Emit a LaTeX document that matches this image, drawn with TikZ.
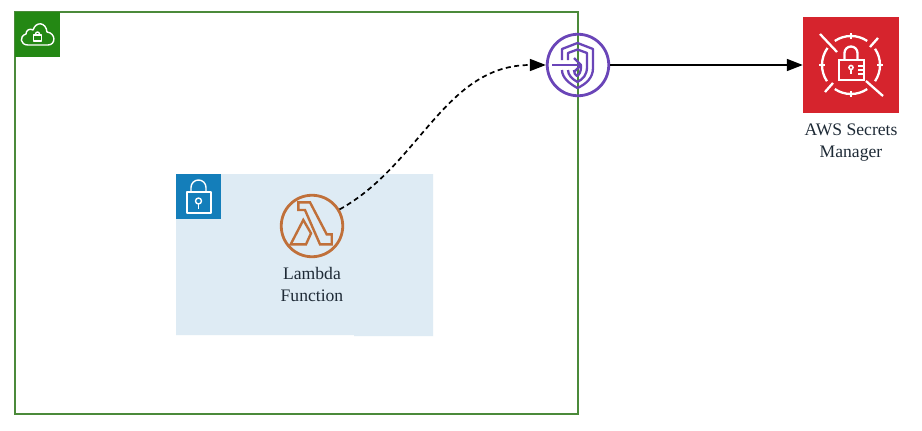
\documentclass[tikz,border=0pt]{standalone}
\usepackage{fontspec}
\setmainfont{Liberation Serif}
\usetikzlibrary{arrows.meta}
\definecolor{vpcgreen}{HTML}{4B8A3A}
\definecolor{badgegreen}{HTML}{248814}
\definecolor{badgeblue}{HTML}{147EBA}
\definecolor{paleblue}{HTML}{DEEBF4}
\definecolor{lambdaorange}{HTML}{C0703A}
\definecolor{endpurple}{HTML}{6A45B8}
\definecolor{secretred}{HTML}{D6242D}
\definecolor{labeltext}{HTML}{1E2A36}
\tikzset{
  x=1pt,y=-1pt,
  badge/.style={inner sep=0pt,minimum size=45pt,anchor=north west},
  ringicon/.style={circle,draw,line width=2.8pt,inner sep=0pt,minimum size=61.5pt},
  whiteline/.style={draw=white,line width=1.4pt,line join=round},
  whitebold/.style={draw=white,line width=2.3pt,line join=miter},
  orangeline/.style={draw=lambdaorange,line width=2.4pt,line join=miter},
  purpleline/.style={draw=endpurple,line width=2.3pt,line join=round},
  caption/.style={font=\fontsize{17.6pt}{22pt}\selectfont,text=labeltext,align=center,inner sep=0pt},
  flow/.style={draw=black,line width=1.7pt,-{Triangle[length=16pt,width=12pt]}},
}
\begin{document}
\begin{tikzpicture}
\useasboundingbox (0,0) rectangle (922,431);
\fill[white] (0,0) rectangle (922,431);
% VPC
\draw[vpcgreen,line width=2.2pt] (15,12) rectangle (578,414);
\node[badge,fill=badgegreen] (vpcbadge) at (15,12) {};
\draw[whiteline] (28,45) .. controls (20,45) and (19,36) .. (26,34)
  .. controls (26,30) and (30,28) .. (33,30)
  .. controls (36,21) and (46,22) .. (47,32)
  .. controls (56,33) and (56,45) .. (48,45) -- cycle;
\draw[whiteline] (33.5,35) rectangle (41.5,41);
\draw[whiteline] (35.5,35) -- (35.5,34) arc (180:360:2) -- (39.5,35);
% private subnet
\fill[paleblue] (176,174) -- (433,174) -- (433,336) -- (354,336) -- (354,335) -- (176,335) -- cycle;
\node[badge,fill=badgeblue] (subnetbadge) at (176,174) {};
\draw[whiteline] (187,192) rectangle (211,213);
\draw[whiteline] (191,192) -- (191,187.5) arc (180:360:7.5) -- (206,192);
\draw[whiteline] (198.5,201) circle (3);
\draw[whiteline] (198.5,204) -- (198.5,208.5);
% lambda
\node[ringicon,draw=lambdaorange] (lambda) at (312,226) {};
\draw[orangeline] (298.3,202.3) -- (310,202.3) -- (326.7,234.3) -- (331.7,234.3) -- (331.7,244.3) -- (320,244.3) -- (305,210) -- (298.3,210) -- cycle;
\draw[orangeline] (303.3,220) -- (290.7,244.3) -- (306,244.3) -- (311,233.3) -- cycle;
\node[caption,anchor=north] (lambdalabel) at (312,267) {Lambda\\Function};
% endpoint
\node[ringicon,draw=endpurple] (endpoint) at (578,65) {};
\draw[purpleline] (562,60) -- (562,49) -- (577.5,43) -- (593,49) -- (593,68) .. controls (593,78) and (586,84) .. (577.5,88) .. controls (570,84) and (562,78) .. (562,70);
\draw[purpleline] (568,60) -- (568,53) -- (577.5,49.5) -- (587,53) -- (587,67) .. controls (587,75) and (583,79) .. (577.5,82) .. controls (572,79) and (568,75) .. (568,70);
\draw[purpleline] (574,70) .. controls (574,73) and (575,75) .. (577,76) .. controls (579,75) and (581,72) .. (581,67) -- (581,65);
\draw[purpleline] (552,65) -- (581,65);
\draw[purpleline] (574,58) -- (581,65) -- (574,72);
% secrets manager
\node[inner sep=0pt,minimum size=96pt,fill=secretred] (secrets) at (851,65) {};
\draw[whitebold] (820,34) -- (837,52);
\draw[whitebold] (878,38) -- (870,47);
\draw[whitebold] (825,92) -- (833,83);
\draw[whitebold] (866,81) -- (883,96);
\draw[whitebold] (851,65) ++(56:29) arc (56:124:29);
\draw[whitebold] (851,65) ++(146:29) arc (146:216:29);
\draw[whitebold] (851,65) ++(236:29) arc (236:304:29);
\draw[whitebold] (851,65) ++(326:29) arc (326:394:29);
\draw[whitebold] (851,33) -- (851,39);
\draw[whitebold] (851,91) -- (851,97);
\draw[whitebold] (819,65) -- (825,65);
\draw[whitebold] (877,65) -- (883,65);
\draw[whitebold] (839,60) rectangle (864,80);
\draw[whitebold] (844.5,60) -- (844.5,53) arc (180:360:6.5) -- (857.5,60);
\draw[whitebold,line width=1.6pt] (851,67.5) circle (2);
\draw[whitebold,line width=1.6pt] (851,69.5) -- (851,74);
\draw[whitebold,line width=1.4pt] (858,66) -- (864,66);
\draw[whitebold,line width=1.4pt] (858,70) -- (864,70);
\draw[whitebold,line width=1.4pt] (858,74) -- (864,74);
\node[caption,anchor=north] (secretslabel) at (851,124) {AWS Secrets\\Manager};
% connectors
\draw[flow,dash pattern=on 5pt off 3.5pt] (lambda.31) .. controls (420,165) and (445,65) .. (endpoint.west);
\draw[flow] (endpoint.east) -- (secrets.west);
\end{tikzpicture}
\end{document}
